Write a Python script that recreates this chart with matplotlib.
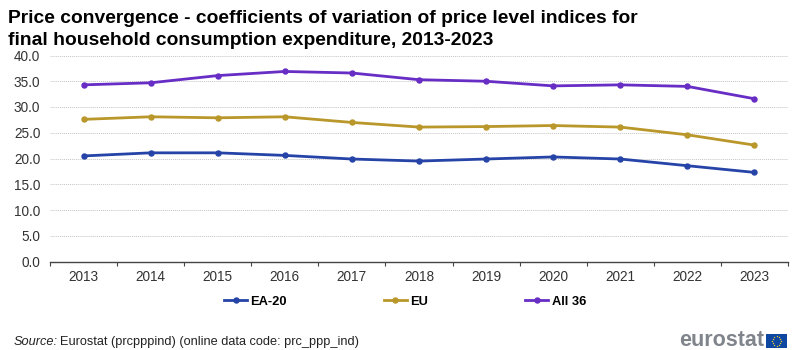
import numpy as np
import matplotlib
matplotlib.use('Agg')
import matplotlib.pyplot as plt

plt.rcParams['font.family'] = ['Liberation Sans', 'DejaVu Sans']

years = ['2013', '2014', '2015', '2016', '2017', '2018', '2019', '2020', '2021', '2022', '2023']
ea20 = [20.5, 21.1, 21.1, 20.6, 19.9, 19.5, 19.9, 20.3, 19.9, 18.6, 17.3]
eu = [27.6, 28.1, 27.9, 28.1, 27.0, 26.1, 26.2, 26.4, 26.1, 24.6, 22.6]
all36 = [34.3, 34.7, 36.1, 36.9, 36.6, 35.3, 35.0, 34.1, 34.3, 34.0, 31.6]
yticks = [0, 5, 10, 15, 20, 25, 30, 35, 40]

W, H = 800, 350
fig = plt.figure(figsize=(8, 3.5), dpi=100)
ax = fig.add_axes([50 / W, 1 - 261.5 / H, 738 / W, 206 / H])

x = np.arange(len(years))
series = [(ea20, '#2644a7', 'EA-20'), (eu, '#b9972a', 'EU'), (all36, '#672dc4', 'All 36')]
for vals, col, name in series:
    ax.plot(x, vals, color=col, lw=2, marker='o', ms=3.6, label=name, clip_on=False)

ax.set_xlim(-0.5, len(years) - 0.5)
ax.set_ylim(0, 40)
ax.set_yticks(yticks)
ax.set_yticklabels(['%.1f' % v for v in yticks], fontsize=9.8, color='#333333')
ax.tick_params(axis='y', length=0, pad=7)
ax.grid(axis='y', color='#c4c4c4', lw=0.7, ls=(0, (1, 1)))
ax.set_axisbelow(True)

# ticks sit between the years, labels in the middle
ax.set_xticks(np.arange(len(years) + 1) - 0.5)
ax.set_xticklabels([])
ax.set_xticks(x, minor=True)
ax.set_xticklabels(years, minor=True, fontsize=9.8, color='#333333')
ax.tick_params(axis='x', which='major', length=3, width=0.8, color='#444444')
ax.tick_params(axis='x', which='minor', length=0, pad=6)

for s in ['top', 'right', 'left']:
    ax.spines[s].set_visible(False)
ax.spines['bottom'].set_color('#444444')
ax.spines['bottom'].set_linewidth(1)

fig.text(8 / W, 1 - 10 / H, 'Price convergence - coefficients of variation of price level indices for\n'
         'final household consumption expenditure, 2013-2023',
         fontsize=13.85, fontweight='bold', va='top', ha='left', color='black', linespacing=1.42)

leg = ax.legend(loc='center left', bbox_to_anchor=(174 / 738, -40 / 206), ncol=3, frameon=False,
                prop={'size': 9.3, 'weight': 'bold'}, handlelength=1.8, handletextpad=0.25,
                columnspacing=7.5, borderpad=0, borderaxespad=0)

fig.text(14 / W, 1 - 342 / H, 'Source:', fontsize=9.2, style='italic', va='center', color='#222222')
fig.text(60 / W, 1 - 342 / H, 'Eurostat (prcpppind) (online data code: prc_ppp_ind)', fontsize=9.2,
         va='center', color='#222222')

# logo
fig.text(764 / W, 1 - 341 / H, 'eurostat', fontsize=15.5, fontweight='bold', color='#80848b',
         ha='right', va='center')
flag = fig.add_axes([766 / W, 1 - 348 / H, 21 / W, 14 / H])
flag.set_facecolor('#0e47a1')
flag.set_xticks([])
flag.set_yticks([])
for s in flag.spines.values():
    s.set_visible(False)
flag.set_xlim(-1.5, 1.5)
flag.set_ylim(-1, 1)
angles = np.arange(12) * np.pi / 6
flag.scatter(0.65 * np.cos(angles), 0.65 * np.sin(angles), s=1, color='#e8c832', marker='o', linewidths=0)

fig.savefig('out.png', dpi=100)
